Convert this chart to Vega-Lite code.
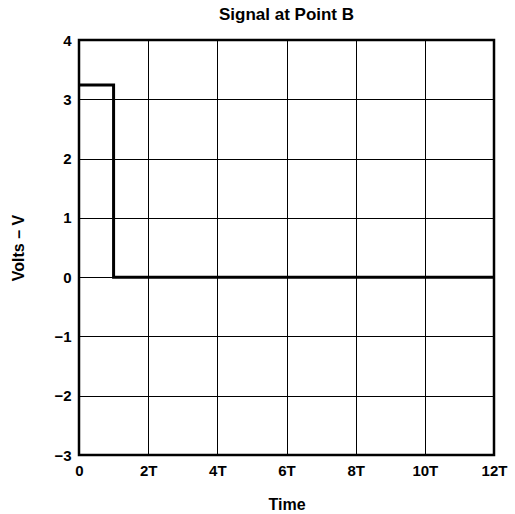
{
  "$schema": "https://vega.github.io/schema/vega-lite/v6.json",
  "width": 415,
  "height": 415,
  "autosize": "none",
  "padding": {"left": 79, "top": 40, "right": 21, "bottom": 59},
  "background": "white",
  "title": {"text": "Signal at Point B", "font": "Liberation Sans", "fontSize": 17, "fontWeight": "bold", "color": "black", "offset": 9, "anchor": "middle"},
  "config": {
    "view": {"stroke": "black", "strokeWidth": 2.5},
    "axis": {"labelFont": "Liberation Sans", "labelFontSize": 15, "labelFontWeight": "bold", "labelColor": "black", "titleFont": "Liberation Sans", "titleFontSize": 16, "titleFontWeight": "bold", "titleColor": "black", "gridColor": "black", "gridOpacity": 1, "gridWidth": 1, "domain": false, "ticks": false}
  },
  "data": {"values": [
    {"t": 0, "v": 3.24},
    {"t": 1, "v": 0},
    {"t": 12, "v": 0}
  ]},
  "mark": {"type": "line", "interpolate": "step-after", "color": "black", "strokeWidth": 3},
  "encoding": {
    "x": {"field": "t", "type": "quantitative", "scale": {"domain": [0, 12], "nice": false},
      "axis": {"values": [0, 2, 4, 6, 8, 10, 12], "labelExpr": "datum.value == 0 ? '0' : datum.value + 'T'", "title": "Time", "labelPadding": 8, "titleY": 41, "labelFlush": false}},
    "y": {"field": "v", "type": "quantitative", "scale": {"domain": [-3, 4], "nice": false},
      "axis": {"values": [-3, -2, -1, 0, 1, 2, 3, 4], "title": "Volts – V", "labelPadding": 8, "titleX": -53, "labelFlush": false}}
  }
}
